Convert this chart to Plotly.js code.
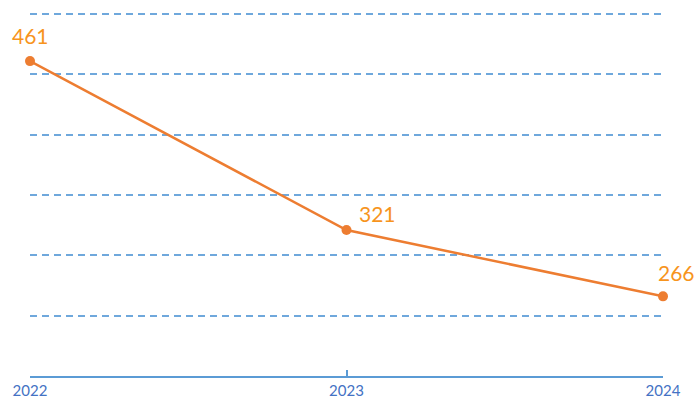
<!DOCTYPE html>
<html><head><meta charset="utf-8">
<script src="https://cdn.plot.ly/plotly-3.0.1.min.js"></script>
<style>body{margin:0;background:#fff}#c{width:696px;height:406px}</style>
</head><body><div id="c"></div>
<script>
const years = ['2022', '2023', '2024'];
const values = [461, 321, 266];
const labelShiftX = [0, 31, 13];
const labelShiftY = [26, 17, 24];

const trace = {
  x: years, y: values, type: 'scatter', mode: 'lines+markers',
  line: {color: '#ed7d31', width: 2.5},
  marker: {color: '#ed7d31', size: 10},
  cliponaxis: false, hoverinfo: 'none'
};
const annotations = years.map((yr, i) => ({
  x: i, y: values[i], xref: 'x', yref: 'y',
  text: String(values[i]), showarrow: false,
  xshift: labelShiftX[i], yshift: labelShiftY[i],
  font: {family: 'Lato, sans-serif', size: 21, color: '#f7941d'}
}));
const layout = {
  width: 696, height: 406,
  margin: {l: 30, r: 33, t: 8, b: 30},
  paper_bgcolor: '#fff', plot_bgcolor: '#fff',
  showlegend: false,
  xaxis: {
    type: 'category', range: [0, 2], showgrid: false,
    showline: true, linecolor: '#5b9bd5', linewidth: 2,
    ticks: 'inside', ticklen: 6, tickwidth: 2, tickcolor: '#5b9bd5',
    tickfont: {family: 'Lato, sans-serif', size: 15, color: '#4472c4'},
    zeroline: false
  },
  yaxis: {
    range: [200, 505], dtick: 50, tick0: 200,
    showgrid: true, gridcolor: '#6fa8dc', gridwidth: 2, griddash: '7px,5px',
    showticklabels: false, zeroline: false, showline: false
  },
  annotations: annotations
};
Plotly.newPlot('c', [trace], layout, {staticPlot: true});
</script></body></html>
